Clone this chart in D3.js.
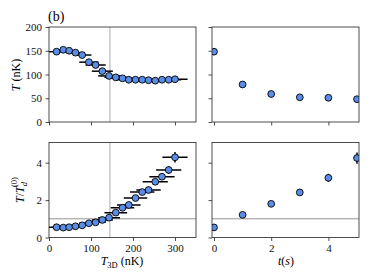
<!DOCTYPE html>
<html>
<head>
<meta charset="utf-8">
<script src="https://cdn.jsdelivr.net/npm/d3@7"></script>
<style>
  body { margin: 0; background: #fff; }
  text { font-family: "Liberation Serif", "DejaVu Serif", serif; }
</style>
</head>
<body>
<script>
//Width and height
var w = 374;
var h = 280;

//Data
var t3d = [18, 34, 48, 63, 79, 95, 111, 127, 143, 159, 175, 190, 206, 222, 237, 253, 269, 285, 300];
var t3dErr = [19, 20, 21, 22, 22, 23, 24, 25, 26, 27, 28, 28, 28, 29, 29, 30, 30, 30, 30];
var tempK = [148, 152, 150, 146, 141, 126, 120, 107, 97, 94, 92, 89, 89, 89, 88, 87, 89, 89, 90];
var tempKErr = [4, 4, 4, 4, 4, 3, 3, 3, 2, 2, 2, 2, 2, 2, 2, 2, 2, 2, 2];
var ratio = [0.55, 0.53, 0.55, 0.6, 0.65, 0.76, 0.81, 0.94, 1.06, 1.33, 1.59, 1.74, 2.11, 2.43, 2.54, 2.98, 3.25, 3.61, 4.29];
var ratioErr = [0.03, 0.03, 0.03, 0.03, 0.04, 0.04, 0.05, 0.05, 0.06, 0.07, 0.08, 0.08, 0.09, 0.1, 0.11, 0.12, 0.14, 0.2, 0.28];

var times = [0, 1, 2, 3, 4, 5];
var tempT = [148, 79, 59, 52, 51, 48];
var tempTErr = [4, 2, 2, 1, 1, 1];
var ratioT = [0.54, 1.21, 1.8, 2.41, 3.19, 4.25];
var ratioTErr = [0.05, 0.06, 0.08, 0.1, 0.22, 0.3];

var t3dTicks = [0, 100, 200, 300];
var tempTicks = [0, 50, 100, 150, 200];
var ratioTicks = [0, 2, 4];
var timeTicks = [0, 2, 4];
var tcLine = 145;

var dotFill = "#5b8de6";

var svg = d3.select("body").append("svg").attr("width", w).attr("height", h);

//Panel boxes
var colL = [49, 196];
var colR = [212, 359];
var rowT = [27, 122];
var rowB = [142.5, 237.5];

var xL = d3.scaleLinear().domain([0, 350]).range(colL);
var xR = d3.scaleLinear().domain([-0.07, 5.07]).range(colR);
var yT = d3.scaleLinear().domain([0, 200]).range([rowT[1], rowT[0]]);
var yB = d3.scaleLinear().domain([0, 5.08]).range([rowB[1], rowB[0]]);

function panel(id, xs, ys, xticks, yticks, showX, showY) {
  var g = svg.append("g");
  var x0 = xs.range()[0], x1 = xs.range()[1];
  var y0 = ys.range()[1], y1 = ys.range()[0];
  g.append("clipPath").attr("id", id)
    .append("rect").attr("x", x0).attr("y", y0).attr("width", x1 - x0).attr("height", y1 - y0);

  var xa = d3.axisBottom(xs).tickValues(xticks).tickSize(3.5).tickPadding(3.5)
    .tickFormat(showX ? d3.format("d") : "");
  var ya = d3.axisLeft(ys).tickValues(yticks).tickSize(3.5).tickPadding(3.5)
    .tickFormat(showY ? d3.format("d") : "");

  var gx = g.append("g").attr("transform", "translate(0," + y1 + ")").call(xa);
  var gy = g.append("g").attr("transform", "translate(" + x0 + ",0)").call(ya);
  [gx, gy].forEach(function (a) {
    a.select(".domain").remove();
    a.selectAll("line").attr("stroke", "#222").attr("stroke-width", 0.8);
    a.selectAll("text").attr("font-size", 11).attr("fill", "#111")
      .attr("font-family", "Liberation Serif, serif");
  });

  var inner = g.append("g").attr("clip-path", "url(#" + id + ")");
  g.append("rect").attr("x", x0).attr("y", y0).attr("width", x1 - x0).attr("height", y1 - y0)
    .attr("fill", "none").attr("stroke", "#222").attr("stroke-width", 0.8);
  return inner;
}

function errDots(g, xs, ys, xv, yv, xe, ye) {
  var idx = d3.range(xv.length);
  if (xe) {
    g.selectAll(null).data(idx).enter().append("line")
      .attr("x1", function (i) { return xs(xv[i] - xe[i]); })
      .attr("x2", function (i) { return xs(xv[i] + xe[i]); })
      .attr("y1", function (i) { return ys(yv[i]); })
      .attr("y2", function (i) { return ys(yv[i]); })
      .attr("stroke", "#000").attr("stroke-width", 1.5);
  }
  g.selectAll(null).data(idx).enter().append("line")
    .attr("x1", function (i) { return xs(xv[i]); })
    .attr("x2", function (i) { return xs(xv[i]); })
    .attr("y1", function (i) { return ys(yv[i] - ye[i]); })
    .attr("y2", function (i) { return ys(yv[i] + ye[i]); })
    .attr("stroke", "#000").attr("stroke-width", 1.5);
  g.selectAll(null).data(idx).enter().append("circle")
    .attr("cx", function (i) { return xs(xv[i]); })
    .attr("cy", function (i) { return ys(yv[i]); })
    .attr("r", 3.4)
    .attr("fill", dotFill).attr("stroke", "#000").attr("stroke-width", 0.9);
}

//Top left
var p1 = panel("c1", xL, yT, t3dTicks, tempTicks, false, true);
p1.append("line").attr("x1", xL(tcLine)).attr("x2", xL(tcLine))
  .attr("y1", rowT[0]).attr("y2", rowT[1]).attr("stroke", "#bbb").attr("stroke-width", 1.2);
errDots(p1, xL, yT, t3d, tempK, t3dErr, tempKErr);

//Top right
var p2 = panel("c2", xR, yT, timeTicks, tempTicks, false, false);
errDots(p2, xR, yT, times, tempT, null, tempTErr);

//Bottom left
var p3 = panel("c3", xL, yB, t3dTicks, ratioTicks, true, true);
p3.append("line").attr("x1", xL(tcLine)).attr("x2", xL(tcLine))
  .attr("y1", rowB[0]).attr("y2", rowB[1]).attr("stroke", "#bbb").attr("stroke-width", 1.2);
p3.append("line").attr("x1", colL[0]).attr("x2", colL[1])
  .attr("y1", yB(1)).attr("y2", yB(1)).attr("stroke", "#888").attr("stroke-width", 0.9);
errDots(p3, xL, yB, t3d, ratio, t3dErr, ratioErr);

//Bottom right
var p4 = panel("c4", xR, yB, timeTicks, ratioTicks, true, false);
p4.append("line").attr("x1", colR[0]).attr("x2", colR[1])
  .attr("y1", yB(1)).attr("y2", yB(1)).attr("stroke", "#888").attr("stroke-width", 0.9);
errDots(p4, xR, yB, times, ratioT, null, ratioTErr);

//Labels
svg.append("text").attr("x", 48).attr("y", 21).attr("font-size", 14).text("(b)");

var yl1 = svg.append("text").attr("transform", "translate(20,75) rotate(-90)")
  .attr("text-anchor", "middle").attr("font-size", 12);
yl1.append("tspan").attr("font-style", "italic").text("T");
yl1.append("tspan").text(" (nK)");

var yl2 = svg.append("text").attr("transform", "translate(24,190) rotate(-90)")
  .attr("text-anchor", "middle").attr("font-size", 12);
yl2.append("tspan").attr("font-style", "italic").text("T");
yl2.append("tspan").text("/");
yl2.append("tspan").attr("font-style", "italic").text("T");
yl2.append("tspan").attr("font-style", "italic").attr("font-size", 8.5).attr("dy", 3).text("d");
yl2.append("tspan").attr("font-size", 8.5).attr("dx", -5).attr("dy", -10).text("(0)");

var xl1 = svg.append("text").attr("x", 122).attr("y", 265)
  .attr("text-anchor", "middle").attr("font-size", 12);
xl1.append("tspan").attr("font-style", "italic").text("T");
xl1.append("tspan").attr("font-size", 8.5).attr("dy", 3).text("3D");
xl1.append("tspan").attr("dy", -3).text(" (nK)");

var xl2 = svg.append("text").attr("x", 286).attr("y", 265)
  .attr("text-anchor", "middle").attr("font-size", 12);
xl2.append("tspan").attr("font-style", "italic").text("t");
xl2.append("tspan").text("(");
xl2.append("tspan").attr("font-style", "italic").text("s");
xl2.append("tspan").text(")");
</script>
</body>
</html>
